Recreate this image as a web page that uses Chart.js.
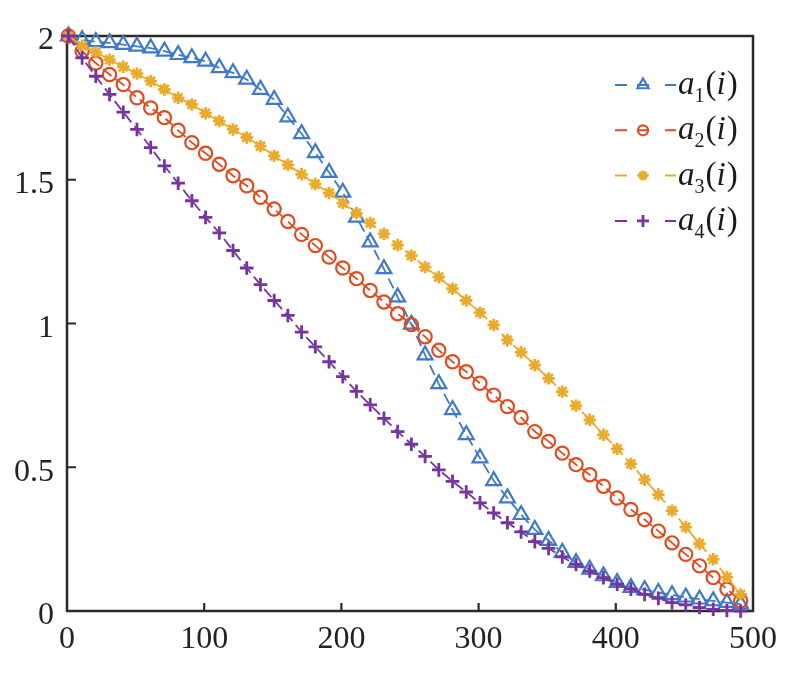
<!DOCTYPE html>
<html>
<head>
<meta charset="utf-8">
<script src="https://cdn.jsdelivr.net/npm/chart.js@4.4.0/dist/chart.umd.min.js"></script>
<style>
  html, body { margin: 0; padding: 0; background: #fff; }
  canvas { display: block; }
</style>
</head>
<body>
<canvas id="curveChart" width="787" height="673"></canvas>
<script>
// sample index i, one marker every 10 steps
const steps = [1, 11, 21, 31, 41, 51, 61, 71, 81, 91,
  101, 111, 121, 131, 141, 151, 161, 171, 181, 191,
  201, 211, 221, 231, 241, 251, 261, 271, 281, 291,
  301, 311, 321, 331, 341, 351, 361, 371, 381, 391,
  401, 411, 421, 431, 441, 451, 461, 471, 481, 491];

const a1Values = [2.0, 1.987, 1.98, 1.976, 1.97, 1.964, 1.958, 1.947, 1.935, 1.924,
  1.912, 1.889, 1.872, 1.849, 1.814, 1.779, 1.718, 1.66, 1.594, 1.525,
  1.456, 1.369, 1.283, 1.19, 1.092, 0.997, 0.89, 0.79, 0.70, 0.613,
  0.532, 0.453, 0.393, 0.335, 0.283, 0.245, 0.203, 0.168, 0.145, 0.122,
  0.099, 0.081, 0.074, 0.064, 0.056, 0.048, 0.041, 0.035, 0.029, 0.024];

const a2Values = [2.0, 1.947, 1.906, 1.866, 1.831, 1.785, 1.75, 1.716, 1.672, 1.629,
  1.592, 1.554, 1.514, 1.479, 1.439, 1.398, 1.355, 1.31, 1.271, 1.231,
  1.193, 1.156, 1.115, 1.075, 1.034, 0.996, 0.954, 0.907, 0.867, 0.832,
  0.792, 0.751, 0.711, 0.673, 0.624, 0.59, 0.549, 0.509, 0.474, 0.434,
  0.393, 0.353, 0.318, 0.278, 0.237, 0.197, 0.157, 0.116, 0.076, 0.035];

const a3Values = [2.0, 1.966, 1.943, 1.918, 1.893, 1.869, 1.843, 1.814, 1.785, 1.762,
  1.731, 1.704, 1.675, 1.647, 1.617, 1.583, 1.552, 1.519, 1.485, 1.454,
  1.419, 1.384, 1.35, 1.312, 1.273, 1.236, 1.196, 1.161, 1.121, 1.08,
  1.038, 0.995, 0.942, 0.90, 0.855, 0.809, 0.763, 0.714, 0.665, 0.613,
  0.564, 0.512, 0.457, 0.405, 0.349, 0.292, 0.234, 0.18, 0.118, 0.058];

const a4Values = [2.0, 1.924, 1.86, 1.797, 1.735, 1.675, 1.612, 1.548, 1.488, 1.427,
  1.369, 1.315, 1.254, 1.193, 1.135, 1.08, 1.028, 0.97, 0.919, 0.867,
  0.815, 0.764, 0.717, 0.67, 0.624, 0.58, 0.538, 0.491, 0.451, 0.414,
  0.376, 0.341, 0.307, 0.275, 0.241, 0.218, 0.188, 0.162, 0.139, 0.116,
  0.093, 0.076, 0.058, 0.044, 0.029, 0.021, 0.012, 0.006, 0.002, 0.0];

const seriesSubs = ['1', '2', '3', '4'];
const seriesColors = ['#3f79c8', '#de4c20', '#eaab2c', '#7634a0'];
const seriesMarkers = ['triangle', 'circle', 'star', 'cross'];
const markerSizes = [8.6, 6.6, 6.2, 6.8];
const markerWidths = [2.2, 2.2, 2.8, 2.8];
const legendMarkerSizes = [6.5, 5, 5, 6];

const serif = '"Liberation Serif", "Times New Roman", serif';
const inkColor = '#222';

function toPoints(values) {
  return values.map((v, k) => ({ x: steps[k], y: v }));
}

// small marker drawer for the hand-made legend
function drawMarker(ctx, style, x, y, r) {
  ctx.beginPath();
  if (style === 'triangle') {
    ctx.moveTo(x, y - r);
    ctx.lineTo(x + r * 0.866, y + r / 2);
    ctx.lineTo(x - r * 0.866, y + r / 2);
    ctx.closePath();
  } else if (style === 'circle') {
    ctx.arc(x, y, r, 0, Math.PI * 2);
  } else if (style === 'star') {
    for (let k = 0; k < 4; k++) {
      const t = k * Math.PI / 4;
      ctx.moveTo(x + r * Math.cos(t), y + r * Math.sin(t));
      ctx.lineTo(x - r * Math.cos(t), y - r * Math.sin(t));
    }
  } else {
    ctx.moveTo(x - r, y); ctx.lineTo(x + r, y);
    ctx.moveTo(x, y - r); ctx.lineTo(x, y + r);
  }
  ctx.stroke();
}

// box around the plot + inward ticks like the original figure
const framePlugin = {
  id: 'frame',
  beforeDatasetsDraw(chart) {
    const { ctx, chartArea: a, scales } = chart;
    ctx.save();
    ctx.strokeStyle = '#2a2a2a';
    ctx.lineWidth = 2.5;
    ctx.strokeRect(a.left, a.top, a.right - a.left, a.bottom - a.top);
    ctx.lineWidth = 2.2;
    ctx.beginPath();
    [100, 200, 300, 400].forEach(v => {
      const px = scales.x.getPixelForValue(v);
      ctx.moveTo(px, a.bottom);
      ctx.lineTo(px, a.bottom - 8);
    });
    [0.5, 1, 1.5].forEach(v => {
      const py = scales.y.getPixelForValue(v);
      ctx.moveTo(a.left, py);
      ctx.lineTo(a.left + 9, py);
    });
    ctx.stroke();
    ctx.restore();
  }
};

const legendPlugin = {
  id: 'mathLegend',
  afterDatasetsDraw(chart) {
    const { ctx, chartArea: a } = chart;
    const x0 = a.right - 138;
    ctx.save();
    chart.data.datasets.forEach((ds, i) => {
      const y = a.top + 49 + i * 45.3;
      ctx.strokeStyle = seriesColors[i];
      ctx.lineWidth = 2;
      ctx.beginPath();
      ctx.moveTo(x0, y); ctx.lineTo(x0 + 12, y);
      ctx.moveTo(x0 + 22, y); ctx.lineTo(x0 + 34, y);
      ctx.moveTo(x0 + 50, y); ctx.lineTo(x0 + 61, y);
      ctx.stroke();
      ctx.lineWidth = markerWidths[i];
      drawMarker(ctx, seriesMarkers[i], x0 + 28, y, legendMarkerSizes[i]);

      // a_k(i) with italic letters and a subscript
      ctx.fillStyle = '#1a1a1a';
      ctx.textBaseline = 'alphabetic';
      let tx = x0 + 63;
      const base = y + 9;
      ctx.font = 'italic 33px ' + serif;
      ctx.fillText('a', tx, base);
      tx += ctx.measureText('a').width;
      ctx.font = '20px ' + serif;
      ctx.fillText(seriesSubs[i], tx, base + 8);
      tx += ctx.measureText(seriesSubs[i]).width + 1;
      ctx.font = '33px ' + serif;
      ctx.fillText('(', tx, base);
      tx += ctx.measureText('(').width;
      ctx.font = 'italic 33px ' + serif;
      ctx.fillText('i', tx, base);
      tx += ctx.measureText('i').width + 1;
      ctx.font = '33px ' + serif;
      ctx.fillText(')', tx, base);
    });
    ctx.restore();
  }
};

const datasets = [a1Values, a2Values, a3Values, a4Values].map((vals, i) => ({
  label: `a${seriesSubs[i]}(i)`,
  data: toPoints(vals),
  borderColor: seriesColors[i],
  backgroundColor: 'rgba(0,0,0,0)',
  borderWidth: 1.8,
  borderDash: [11, 5],
  pointStyle: seriesMarkers[i],
  pointRadius: markerSizes[i],
  pointBorderColor: seriesColors[i],
  pointBackgroundColor: 'rgba(0,0,0,0)',
  pointBorderWidth: markerWidths[i],
  tension: 0,
  fill: false,
  clip: false,
  order: 4 - i
}));

const ctx = document.getElementById('curveChart').getContext('2d');
new Chart(ctx, {
  type: 'line',
  data: { datasets: datasets },
  plugins: [framePlugin, legendPlugin],
  options: {
    responsive: false,
    animation: false,
    devicePixelRatio: 1,
    layout: { padding: { top: 36, right: 34, left: 0, bottom: 0 } },
    plugins: { legend: { display: false }, tooltip: { enabled: false } },
    scales: {
      x: {
        type: 'linear',
        min: 0,
        max: 500,
        border: { display: false },
        grid: { display: false, drawTicks: false },
        ticks: { stepSize: 100, padding: 9, color: inkColor, font: { family: serif, size: 32 }, maxRotation: 0 },
        afterFit(scale) { scale.height = 62; }
      },
      y: {
        min: 0,
        max: 2,
        border: { display: false },
        grid: { display: false, drawTicks: false },
        ticks: {
          stepSize: 0.5, padding: 13, labelOffset: 5, color: inkColor,
          font: { family: serif, size: 32 },
          callback: value => String(+value)
        },
        afterFit(scale) { scale.width = 67; }
      }
    }
  }
});
</script>
</body>
</html>
